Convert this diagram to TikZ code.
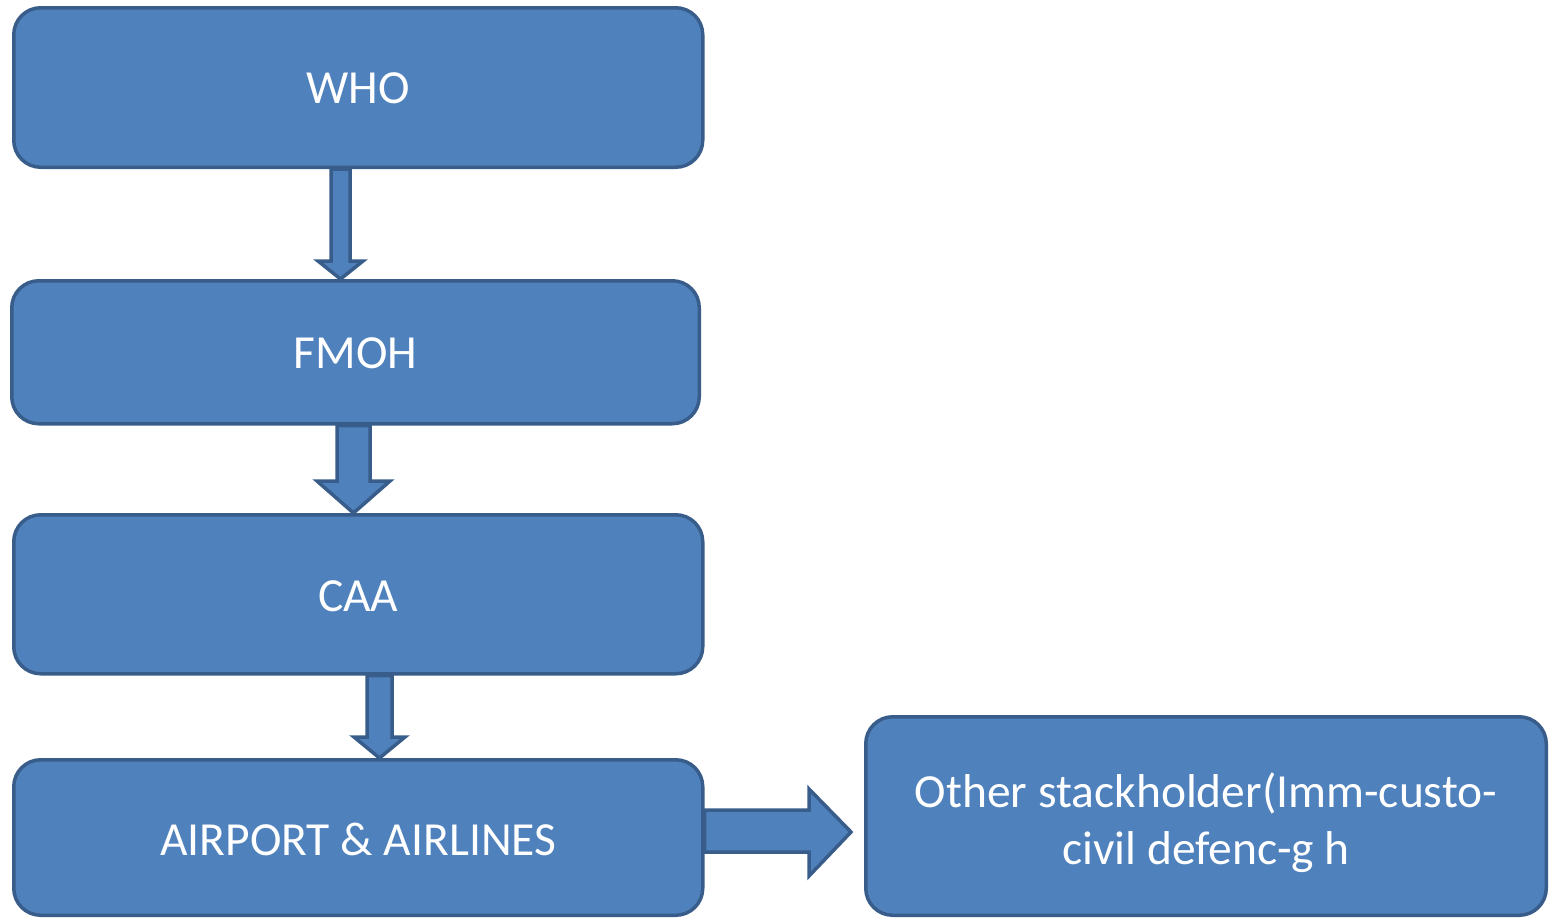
\documentclass[tikz,border=0pt]{standalone}
\usepackage{fontspec}
\setmainfont{Carlito}
\usetikzlibrary{calc}
\definecolor{boxfill}{HTML}{4F81BD}
\definecolor{boxline}{HTML}{385D8A}
\tikzset{
  flowbox/.style={draw=boxline, fill=boxfill, line width=3.5pt, rounded corners=27pt,
    text=white, font=\fontsize{47.5}{57}\selectfont, align=center, inner sep=0pt},
  blockarrow/.style={draw=boxline, fill=boxfill, line width=3.5pt, line join=miter}
}
\begin{document}
\begin{tikzpicture}[x=1pt,y=-1pt]
\useasboundingbox (0,0) rectangle (1549,919);
\node[flowbox, minimum width=689pt, minimum height=159.5pt] (who) at (358.25,87.5) {\rule{0pt}{32.5pt}WHO};
\node[flowbox, minimum width=687.5pt, minimum height=143pt] (fmoh) at (355.5,352.25) {\rule{0pt}{32.5pt}FMOH};
\node[flowbox, minimum width=689pt, minimum height=159pt] (caa) at (358.25,594.25) {\rule{0pt}{34.5pt}CAA};
\node[flowbox, minimum width=689pt, minimum height=155.5pt] (air) at (358.25,837.5) {\rule{0pt}{37pt}AIRPORT \& AIRLINES};
\node[flowbox, minimum width=680.5pt, minimum height=198.5pt] (oth) at (1206,816) {\rule{0pt}{49pt}Other stackholder(Imm-custo-\\civil defenc-g h};
% WHO -> FMOH
\draw[blockarrow] (331,0 |- who.south) -- (350,0 |- who.south) -- (350,261) -- (363,261)
  -- (340.5,0 |- fmoh.north) -- (318,261) -- (331,261) -- cycle;
% FMOH -> CAA
\draw[blockarrow] (337,0 |- fmoh.south) -- (370,0 |- fmoh.south) -- (370,481) -- (390,481)
  -- (353.5,0 |- caa.north) -- (317,481) -- (337,481) -- cycle;
% CAA -> AIRPORT
\draw[blockarrow] (367,0 |- caa.south) -- (392,0 |- caa.south) -- (392,737) -- (405,737)
  -- (379.5,0 |- air.north) -- (354,737) -- (367,737) -- cycle;
% AIRPORT -> Other
\coordinate (tip) at (851,832);
\draw[blockarrow] (air.east |- 0,810) -- (809,810) -- (809,789) -- (tip)
  -- (809,876) -- (809,852) -- (air.east |- 0,852) -- cycle;
\end{tikzpicture}
\end{document}
